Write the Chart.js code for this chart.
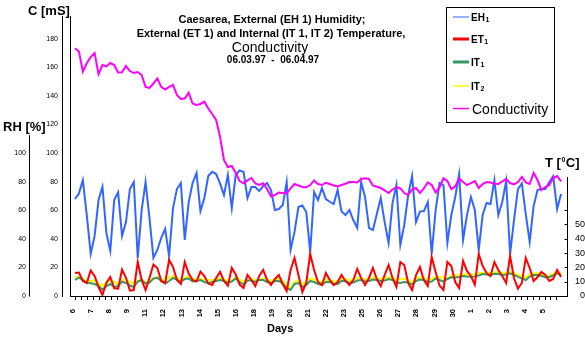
<!DOCTYPE html>
<html>
<head>
<meta charset="utf-8">
<script src="https://cdn.jsdelivr.net/npm/chart.js@4/dist/chart.umd.min.js"></script>
<style>
  html, body { margin: 0; padding: 0; background: #fff; }
  #wrap { position: relative; width: 585px; height: 341px; }
</style>
</head>
<body>
<div id="wrap"><canvas id="c"></canvas></div>
<script>
const FONT = '"Liberation Sans", Arial, Helvetica, sans-serif';

// One reading every 6 hours, starting 06.03.97 00:00 (x is in days)
const STEP_DAYS = 0.25;

// Day labels printed under the time axis
const dayLabels = ['6','7','8','9','11','12','13','14','15','16','18','19','20','21','22','23','25','26','27','28','29','30','1','2','3','4','5'];

// Axis tick values
const rhTicks = [0, 20, 40, 60, 80, 100];
const cTicks = [0, 20, 40, 60, 80, 100, 120, 140, 160, 180];
const tTicks = [0, 10, 20, 30, 40, 50, 60];

// EH1 - external relative humidity [%]
const eh1 = [
  67.8, 71.7, 81.1, 56.6, 29.4, 42.0, 67.1, 76.4, 44.1, 31.5,
  67.1, 72.5, 42.0, 51.7, 74.8, 79.7, 26.6, 60.1, 79.7, 54.5,
  26.6, 32.2, 40.6, 46.9, 28.0, 61.5, 74.8, 79.0, 39.2, 65.7,
  79.0, 86.0, 59.4, 68.5, 83.9, 86.9, 85.3, 78.8, 70.6, 84.6,
  61.5, 84.6, 87.8, 86.7, 68.5, 76.2, 76.2, 73.4, 76.9, 79.0,
  74.1, 60.1, 60.8, 63.6, 79.7, 32.2, 44.8, 62.2, 63.3, 58.7,
  30.8, 72.7, 67.1, 75.5, 67.8, 65.9, 64.3, 74.1, 59.1, 56.6,
  60.1, 53.1, 47.6, 79.7, 69.2, 47.6, 46.2, 57.3, 68.5, 51.7,
  37.1, 65.0, 77.6, 35.7, 49.7, 70.6, 83.9, 51.7, 59.0, 59.4,
  65.7, 29.4, 60.1, 79.0, 77.6, 37.1, 56.6, 69.2, 85.3, 39.2,
  56.6, 69.2, 60.1, 32.2, 56.6, 65.0, 64.3, 81.1, 56.6, 65.7,
  80.4, 29.4, 53.1, 74.8, 78.7, 57.3, 37.8, 62.9, 74.1, 74.8,
  74.8, 79.7, 83.7, 60.8, 71.3
];

// ET1 - external temperature [°C]
const et1 = [
  16.1, 16.4, 10.5, 9.1, 17.8, 14.0, 6.3, 0.7, 9.1, 13.3,
  5.4, 5.2, 18.5, 12.9, 3.8, 4.2, 23.8, 11.2, 4.2, 12.6,
  22.0, 19.6, 10.5, 9.1, 25.2, 20.3, 11.2, 8.4, 23.8, 15.7,
  11.2, 10.1, 17.1, 14.0, 8.7, 7.7, 12.6, 16.8, 10.5, 7.3,
  19.6, 15.0, 8.0, 5.6, 14.7, 11.2, 7.0, 14.0, 18.2, 11.2,
  7.7, 11.9, 14.7, 8.4, 3.5, 18.2, 26.6, 14.7, 2.8, 9.1,
  29.4, 18.2, 9.8, 7.7, 16.1, 11.2, 7.7, 9.8, 14.7, 10.5,
  7.7, 11.2, 18.9, 12.6, 7.7, 12.6, 19.6, 11.9, 7.0, 14.7,
  21.7, 12.6, 6.3, 23.8, 21.7, 9.1, 4.2, 14.7, 20.3, 11.2,
  7.0, 27.3, 16.8, 7.3, 4.2, 23.8, 21.0, 9.8, 5.6, 24.5,
  17.5, 14.0, 8.0, 29.4, 21.0, 16.1, 14.0, 23.8, 18.2, 14.0,
  9.1, 28.0, 12.6, 5.2, 9.1, 26.6, 19.6, 10.5, 13.3, 16.8,
  14.7, 10.5, 11.9, 18.2, 13.3
];

// IT1 - internal temperature, sensor 1 [°C]
const it1 = [
  11.2, 12.9, 11.2, 9.4, 8.9, 8.4, 7.0, 4.5, 7.0, 8.4,
  6.3, 7.0, 10.1, 9.1, 7.3, 6.3, 10.1, 11.2, 8.7, 9.4,
  12.2, 12.7, 10.5, 8.7, 10.5, 12.6, 11.5, 9.8, 11.9, 12.2,
  10.1, 10.5, 11.2, 9.8, 8.9, 9.8, 10.5, 11.2, 10.5, 9.4,
  10.1, 12.2, 9.8, 8.0, 10.8, 10.8, 9.8, 11.2, 11.2, 9.8,
  9.1, 10.5, 10.5, 8.7, 5.6, 4.2, 8.4, 9.1, 6.3, 7.7,
  10.5, 9.8, 8.4, 7.7, 9.8, 9.8, 8.4, 8.4, 10.5, 10.5,
  9.1, 9.4, 10.8, 11.2, 10.1, 10.5, 11.5, 11.2, 10.5, 10.8,
  11.9, 11.2, 9.4, 9.1, 9.8, 9.4, 8.0, 10.5, 11.5, 11.2,
  9.8, 10.1, 12.2, 11.2, 10.1, 11.9, 13.1, 12.9, 13.3, 14.0,
  13.6, 13.5, 13.6, 14.3, 15.4, 15.0, 14.7, 15.5, 15.4, 14.7,
  15.0, 15.9, 14.7, 13.5, 12.2, 11.2, 13.6, 14.7, 14.7, 14.0,
  13.1, 13.3, 14.3, 15.9, 14.7
];

// IT2 - internal temperature, sensor 2 [°C]
const it2 = [
  13.1, 13.4, 11.9, 10.1, 10.5, 10.8, 8.9, 7.0, 9.8, 11.0,
  9.8, 8.4, 11.2, 11.7, 9.8, 8.9, 10.8, 11.5, 9.4, 10.1,
  12.6, 13.1, 11.5, 10.7, 12.9, 14.0, 12.9, 11.2, 12.9, 13.8,
  11.9, 12.2, 11.9, 11.2, 11.2, 11.2, 11.9, 12.4, 11.5, 10.5,
  10.8, 13.3, 11.5, 10.1, 11.2, 11.7, 11.2, 11.2, 12.2, 11.2,
  10.5, 11.9, 11.9, 10.5, 7.7, 5.6, 9.8, 10.8, 8.4, 9.8,
  12.2, 11.5, 10.1, 9.8, 11.5, 11.2, 10.1, 10.1, 11.9, 11.9,
  10.8, 11.2, 12.6, 12.6, 11.5, 11.9, 12.9, 12.6, 11.9, 12.2,
  13.3, 12.6, 11.2, 11.7, 12.2, 11.2, 9.4, 12.2, 13.3, 12.6,
  11.5, 11.9, 13.5, 13.3, 12.6, 11.9, 14.3, 14.3, 14.3, 15.0,
  15.2, 14.7, 15.4, 15.9, 16.1, 16.2, 16.1, 16.4, 17.0, 16.2,
  16.1, 17.0, 16.1, 14.7, 13.6, 13.1, 15.0, 15.9, 15.9, 15.0,
  13.5, 14.3, 15.4, 17.0, 15.9
];

// Conductivity [mS]
const conductivity = [
  173.2, 171.0, 156.9, 162.7, 167.1, 169.9, 155.2, 161.5, 160.5, 162.9,
  161.5, 156.3, 156.4, 160.8, 157.3, 155.9, 156.6, 154.5, 146.2, 145.5,
  148.6, 152.2, 146.2, 144.4, 146.2, 147.6, 140.6, 137.8, 138.1, 142.2,
  134.6, 133.6, 134.3, 135.9, 131.1, 127.3, 123.1, 111.4, 95.1, 90.2,
  90.9, 86.0, 80.4, 78.8, 80.8, 82.5, 78.7, 77.6, 78.8, 74.8,
  69.6, 70.6, 72.4, 72.0, 71.7, 75.2, 78.3, 77.3, 76.2, 76.0,
  77.6, 80.8, 78.3, 77.6, 79.2, 78.3, 77.3, 76.6, 77.6, 78.5,
  79.7, 79.7, 79.4, 81.8, 82.3, 81.8, 77.3, 76.4, 75.5, 73.8,
  72.0, 74.5, 76.2, 75.2, 72.0, 70.6, 74.5, 75.5, 72.0, 75.2,
  79.4, 77.6, 72.4, 75.9, 82.3, 80.4, 74.8, 76.6, 82.2, 79.7,
  77.6, 79.0, 80.4, 75.5, 78.3, 79.7, 79.4, 78.5, 78.3, 80.1,
  81.8, 79.0, 78.0, 79.7, 83.2, 79.4, 78.3, 86.0, 81.1, 74.1,
  76.2, 77.6, 82.5, 83.9, 80.1
];

// All three vertical scales share one value range
const V_MAX = 195.8;
const RH_SPINE_TOP = 112.5;
const T_SPINE_TOP = 83.2;

const COLORS = { EH1: '#3366ff', ET1: '#ff0000', IT1: '#339966', IT2: '#ffff00', Conductivity: '#ff00ff' };

const toPoints = arr => arr.map((v, i) => ({ x: i * STEP_DAYS, y: v }));

function lineSet(label, values, axis) {
  return {
    label, data: toPoints(values), yAxisID: axis, xAxisID: 'x',
    borderColor: COLORS[label], backgroundColor: COLORS[label],
    borderWidth: 2, pointRadius: 0, tension: 0, fill: false
  };
}

// Axis spines, captions, title block and legend box
const decor = {
  id: 'decor',
  afterDraw(chart) {
    const { ctx, scales } = chart;
    const rh = scales.yRH, t = scales.yT;
    ctx.save();
    ctx.strokeStyle = '#000';
    ctx.fillStyle = '#000';
    ctx.lineWidth = 1;

    // RH spine (only up to ~112 %)
    const xRH = Math.round(rh.right) - 0.5;
    ctx.beginPath();
    ctx.moveTo(xRH, rh.getPixelForValue(RH_SPINE_TOP));
    ctx.lineTo(xRH, rh.getPixelForValue(0) + 0.5);
    ctx.stroke();

    // Temperature spine with inward tick marks
    const xT = Math.round(t.left) + 0.5;
    ctx.beginPath();
    ctx.moveTo(xT, t.getPixelForValue(T_SPINE_TOP));
    ctx.lineTo(xT, t.getPixelForValue(0) + 0.5);
    tTicks.forEach(v => {
      const y = Math.round(t.getPixelForValue(v)) + 0.5;
      ctx.moveTo(xT - 3, y);
      ctx.lineTo(xT, y);
    });
    ctx.stroke();

    // Axis captions
    ctx.textAlign = 'left';
    ctx.textBaseline = 'alphabetic';
    ctx.font = 'bold 13px ' + FONT;
    ctx.fillText('C [mS]', 28, 15);
    ctx.fillText('RH [%]', 3, 131);
    let x = 545;
    ctx.fillText('T [', x, 167);
    x += ctx.measureText('T [').width;
    ctx.font = 'bold 7px ' + FONT;
    ctx.fillText('0', x + 0.5, 162);
    x += ctx.measureText('0').width + 1;
    ctx.font = 'bold 13px ' + FONT;
    ctx.fillText('C]', x, 167);

    ctx.font = 'bold 11px ' + FONT;
    ctx.fillText('Days', 267, 332);

    // Title block
    ctx.textAlign = 'center';
    ctx.font = 'bold 11px ' + FONT;
    ctx.fillText('Caesarea, External (EH 1) Humidity;', 272, 23);
    ctx.fillText('External (ET 1) and Internal (IT 1, IT 2) Temperature,', 271, 36.5);
    ctx.font = '14px ' + FONT;
    ctx.fillText('Conductivity', 270, 52);
    ctx.font = 'bold 10px ' + FONT;
    ctx.fillText('06.03.97  -  06.04.97', 273, 63);

    // Legend box
    ctx.fillStyle = '#fff';
    ctx.fillRect(446.5, 7.5, 108, 115);
    ctx.strokeStyle = '#000';
    ctx.strokeRect(446.5, 7.5, 108, 115);
    const rows = [
      { key: 'EH1', main: 'EH', sub: '1', w: 1, y: 17 },
      { key: 'ET1', main: 'ET', sub: '1', w: 3, y: 39 },
      { key: 'IT1', main: 'IT', sub: '1', w: 3, y: 62 },
      { key: 'IT2', main: 'IT', sub: '2', w: 1.5, y: 86 },
      { key: 'Conductivity', main: 'Conductivity', sub: '', w: 1.5, y: 108.5 }
    ];
    ctx.textAlign = 'left';
    rows.forEach(r => {
      ctx.strokeStyle = COLORS[r.key];
      ctx.lineWidth = r.w;
      ctx.beginPath();
      ctx.moveTo(453, r.y);
      ctx.lineTo(469, r.y);
      ctx.stroke();
      ctx.fillStyle = '#000';
      if (r.sub) {
        ctx.font = 'bold 10px ' + FONT;
        ctx.fillText(r.main, 471, r.y + 4);
        const w = ctx.measureText(r.main).width;
        ctx.font = 'bold 7px ' + FONT;
        ctx.fillText(r.sub, 471 + w + 0.5, r.y + 4.5);
      } else {
        ctx.font = '14px ' + FONT;
        ctx.fillText(r.main, 472, r.y + 5);
      }
    });
    ctx.restore();
  }
};

const ticksFrom = list => scale => { scale.ticks = list.map(v => ({ value: v })); };
const noGrid = { display: false, drawTicks: false, tickLength: 0 };

new Chart(document.getElementById('c'), {
  type: 'line',
  data: {
    datasets: [
      lineSet('ET1', et1, 'yT'),
      lineSet('IT1', it1, 'yT'),
      lineSet('IT2', it2, 'yT'),
      lineSet('Conductivity', conductivity, 'y'),
      lineSet('EH1', eh1, 'yRH')
    ]
  },
  options: {
    responsive: true,
    maintainAspectRatio: false,
    animation: false,
    devicePixelRatio: 1,
    layout: { padding: { top: 16, left: 0, right: 0, bottom: 0 } },
    plugins: { legend: { display: false }, tooltip: { enabled: false } },
    scales: {
      x: {
        type: 'linear', position: 'bottom', weight: 0,
        min: -0.32, max: 31.38,
        afterBuildTicks: scale => {
          const list = [];
          for (let v = 0.06; v <= 30.8; v += 0.374) list.push({ value: v });
          scale.ticks = list;
        },
        afterFit: scale => { scale.height = 5; },
        ticks: { display: false },
        grid: { display: true, drawOnChartArea: false, drawTicks: true, tickLength: 4, color: '#000', tickColor: '#000', lineWidth: 1 },
        border: { display: true, color: '#000', width: 1 }
      },
      xl: {
        type: 'linear', position: 'bottom', weight: 1,
        min: -0.166, max: 27.33,
        afterBuildTicks: ticksFrom(dayLabels.map((_, i) => i)),
        afterFit: scale => { scale.height = 40; },
        ticks: {
          autoSkip: false, minRotation: 90, maxRotation: 90, padding: 8,
          color: '#000', font: { family: FONT, size: 7.5, weight: 'bold' },
          callback: v => dayLabels[Math.round(v)]
        },
        grid: noGrid,
        border: { display: false }
      },
      yRH: {
        type: 'linear', position: 'left', weight: 3, min: 0, max: V_MAX,
        afterBuildTicks: ticksFrom(rhTicks),
        afterFit: scale => { scale.width = 30; },
        ticks: { padding: 4, color: '#000', font: { family: FONT, size: 7 } },
        grid: noGrid,
        border: { display: false }
      },
      y: {
        type: 'linear', position: 'left', weight: 2, min: 0, max: V_MAX,
        afterBuildTicks: ticksFrom(cTicks),
        afterFit: scale => { scale.width = 32; },
        ticks: { padding: 4, color: '#000', font: { family: FONT, size: 7 } },
        grid: noGrid,
        border: { display: true, color: '#000', width: 1 }
      },
      yFrame: {
        type: 'linear', position: 'left', weight: 1, min: 0, max: V_MAX,
        afterFit: scale => { scale.width = 8; },
        ticks: { display: false },
        grid: noGrid,
        border: { display: true, color: '#000', width: 1 }
      },
      yT: {
        type: 'linear', position: 'right', weight: 0, min: 0, max: V_MAX,
        afterBuildTicks: ticksFrom(tTicks),
        afterFit: scale => { scale.width = 18; },
        ticks: {
          padding: 0, crossAlign: 'far', color: '#000', font: { family: FONT, size: 9 },
          callback: v => (v <= 50 ? String(v) : '')
        },
        grid: noGrid,
        border: { display: false }
      }
    }
  },
  plugins: [decor]
});
</script>
</body>
</html>
